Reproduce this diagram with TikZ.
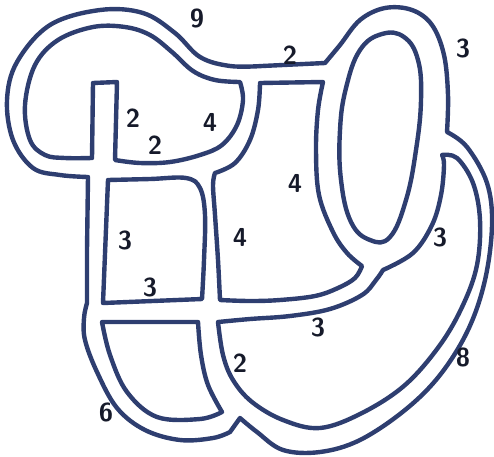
\documentclass[tikz,border=0pt]{standalone}
\usepackage{xcolor}
\usepackage{tikz}
\definecolor{inkblue}{RGB}{46, 62, 112}
\definecolor{inkdark}{RGB}{22, 26, 42}

\begin{document}
\begin{tikzpicture}[x=1pt,y=-1pt,
	band/.style={inkblue, line width=4.4pt, line join=round, line cap=round},
	num/.style={inkdark, font=\fontsize{26}{26}\selectfont\sffamily\bfseries}]
	\useasboundingbox (0,0) rectangle (494,456);
	\draw[band] (88,177) -- plot[smooth,tension=.6] coordinates {(88,177) (60,175) (33,168) (13,140) (7,100) (17,62) (50,25) (100,10) (143,13) (175,33) (200,57) (230,66) (262,66)} -- (325,63) -- plot[smooth,tension=.6] coordinates {(325,63) (340,45) (360,20) (385,8) (412,10) (432,25) (444,55) (448,95) (447,132)} -- plot[smooth,tension=.6] coordinates {(447,132) (467,147) (487,183) (492,225) (485,280) (468,330) (440,375) (405,410) (360,440) (320,452) (283,450) (257,432) (240,418)} -- (230,432) -- plot[smooth,tension=.6] coordinates {(230,432) (213,438) (180,440) (145,430) (117,408) (97,372) (85,340) (84,318) (87,303)} -- (87,250) -- cycle;
	\draw[band] (92,158) -- (93,83) -- (117,82) -- (115,160) -- plot[smooth,tension=.6] coordinates {(115,160) (140,163) (170,162) (200,155) (222,145) (237,125) (243,100) (240,82)} -- plot[smooth,tension=.6] coordinates {(240,82) (215,80) (193,71) (172,52) (150,35) (125,27) (93,27) (58,40) (35,65) (25,105) (30,140) (45,155) (65,158) (92,158)} -- cycle;
	\draw[band] (260,83) -- (323,82) -- plot[smooth,tension=.6] coordinates {(323,82) (318,110) (316,150) (319,195) (333,232) (347,253) (362,266)} -- plot[smooth,tension=.6] coordinates {(362,266) (355,278) (338,288) (315,296) (280,300) (250,301) (220,300)} -- plot[smooth,tension=.6] coordinates {(220,300) (218,260) (215,215) (213,185) (215,173)} -- plot[smooth,tension=.6] coordinates {(215,173) (235,163) (250,140) (258,110) (260,83)} -- cycle;
	\draw[band] (108,180) -- plot[smooth,tension=.6] coordinates {(108,180) (150,179) (186,178) (200,188) (205,215) (204,260) (202,299)} -- (103,303) -- cycle;
	\draw[band] (102,322) -- (198,322) -- plot[smooth,tension=.6] coordinates {(198,322) (201,355) (208,385) (222,412)} -- plot[smooth,tension=.6] coordinates {(222,412) (200,419) (157,417) (127,392) (110,355) (102,322)} -- cycle;
	\draw[band] (218,322) -- plot[smooth,tension=.6] coordinates {(218,322) (250,319) (290,316) (330,309) (362,295) (376,280) (383,270)} -- plot[smooth,tension=.6] coordinates {(383,270) (413,253) (432,225) (441,195) (444,165) (442,155)} -- plot[smooth,tension=.6] coordinates {(442,155) (457,158) (473,183) (480,220) (477,265) (463,305) (440,345) (405,385) (362,413) (320,428) (283,420) (252,402) (233,380) (223,355) (218,322)} -- cycle;
	\draw[band] plot[smooth cycle,tension=.7] coordinates {(360,50) (382,34) (404,37) (418,60) (421,100) (416,150) (406,200) (390,237) (370,240) (351,222) (341,180) (340,130) (346,88)};
	\node[num] (n9) at (197,18) {9};
	\node[num] (n2top) at (290,55) {2};
	\node[num] (n3top) at (463,48) {3};
	\node[num] (n2stub) at (133,118) {2};
	\node[num] (n2low) at (155,145) {2};
	\node[num] (n4loop) at (210,122) {4};
	\node[num] (n4mid) at (295,183) {4};
	\node[num] (n4side) at (240,237) {4};
	\node[num] (n3box) at (125,240) {3};
	\node[num] (n3boxlow) at (150,287) {3};
	\node[num] (n3ell) at (440,237) {3};
	\node[num] (n3bot) at (318,327) {3};
	\node[num] (n2bot) at (240,363) {2};
	\node[num] (n8) at (463,357) {8};
	\node[num] (n6) at (106,412) {6};
\end{tikzpicture}
\end{document}
